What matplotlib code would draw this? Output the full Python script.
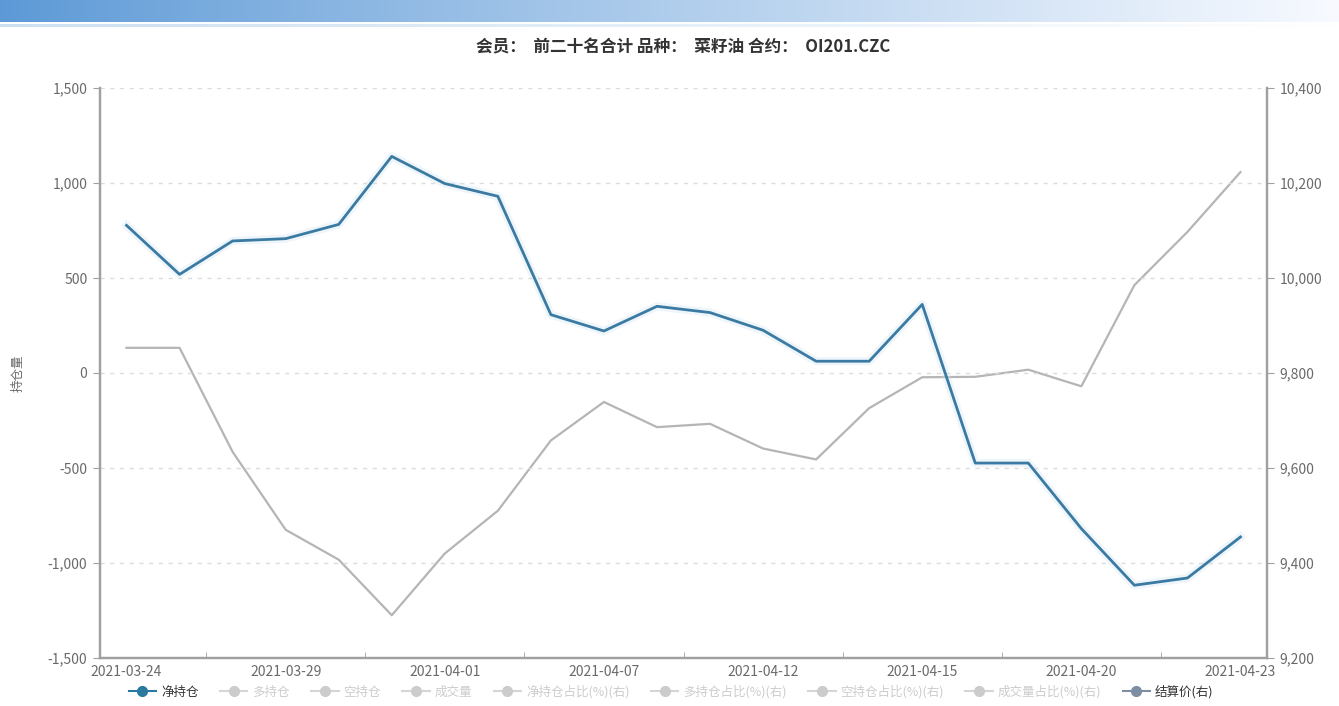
import numpy as np
import matplotlib
matplotlib.use("Agg")
import matplotlib.pyplot as plt
import matplotlib.patheffects as pe
from matplotlib.lines import Line2D
from matplotlib.ticker import FuncFormatter

plt.rcParams['font.family'] = ['Noto Sans CJK SC', 'DejaVu Sans']

# 交易日
dates = ['2021-03-24', '2021-03-25', '2021-03-26', '2021-03-29', '2021-03-30',
         '2021-03-31', '2021-04-01', '2021-04-02', '2021-04-06', '2021-04-07',
         '2021-04-08', '2021-04-09', '2021-04-12', '2021-04-13', '2021-04-14',
         '2021-04-15', '2021-04-16', '2021-04-19', '2021-04-20', '2021-04-21',
         '2021-04-22', '2021-04-23']

# 前二十名净持仓（左轴）
net_pos = [777, 519, 695, 707, 782, 1140, 997, 930, 307, 221, 351, 318,
           225, 62, 62, 361, -474, -474, -819, -1117, -1079, -863]

# 结算价（右轴）
settle = [9853, 9853, 9634, 9470, 9407, 9290, 9420, 9510, 9658, 9739, 9686,
          9693, 9641, 9618, 9726, 9791, 9792, 9807, 9772, 9985, 10097, 10223]

legend_names = ['净持仓', '多持仓', '空持仓', '成交量', '净持仓占比(%)(右)',
                '多持仓占比(%)(右)', '空持仓占比(%)(右)', '成交量占比(%)(右)', '结算价(右)']

title = '会员：  前二十名合计 品种：  菜籽油 合约：  OI201.CZC'

BLUE = '#3b7aa2'
GRAY = '#b5b5b5'
AXIS = '#a0a0a0'
TXT = '#6a6a6a'

fig = plt.figure(figsize=(13.39, 7.06), dpi=100)

# 顶部渐变条
bar = fig.add_axes([0, 1 - 22 / 706, 1, 22 / 706])
grad = np.linspace(0, 1, 512)
c0 = np.array([0.36, 0.60, 0.84])
c1 = np.array([0.97, 0.98, 1.0])
img = c0[None, :] * (1 - grad[:, None] ** 0.9) + c1[None, :] * grad[:, None] ** 0.9
bar.imshow(img[None, :, :], aspect='auto', extent=[0, 1, 0, 1])
bar.axis('off')
line = fig.add_axes([0, 1 - 27 / 706, 1, 3 / 706])
c2 = np.array([0.80, 0.88, 0.95])
img2 = c2[None, :] * (1 - grad[:, None]) + np.array([1, 1, 1])[None, :] * grad[:, None]
line.imshow(img2[None, :, :], aspect='auto', extent=[0, 1, 0, 1])
line.axis('off')

ax = fig.add_axes([100 / 1339, 48 / 706, 1167 / 1339, 570 / 706])
ax2 = ax.twinx()

x = np.arange(len(dates))

ax2.plot(x, settle, color=GRAY, lw=1.6, zorder=2)
ax.plot(x, net_pos, color=BLUE, lw=2.0, zorder=3,
        path_effects=[pe.Stroke(linewidth=6, foreground='#cfe6f5', alpha=0.35), pe.Normal()])
ax.set_zorder(ax2.get_zorder() + 1)
ax.patch.set_visible(False)

ax.set_xlim(-0.5, len(dates) - 0.5)
ax.set_ylim(-1500, 1500)
ax2.set_ylim(9200, 10400)
ax.set_yticks(np.arange(-1500, 1501, 500))
ax2.set_yticks(np.arange(9200, 10401, 200))
fmt = FuncFormatter(lambda v, p: f'{int(v):,}')
ax.yaxis.set_major_formatter(fmt)
ax2.yaxis.set_major_formatter(fmt)

ax.set_xticks(x[::3])
ax.set_xticklabels(dates[::3])
ax.set_xticks(np.arange(1.5, len(dates) - 0.5, 3), minor=True)
ax.tick_params(axis='x', which='major', length=0, pad=5, labelsize=10, labelcolor=TXT)
ax.tick_params(axis='x', which='minor', length=4, color=AXIS, direction='in')
ax.tick_params(axis='y', length=5, color=AXIS, labelsize=10, labelcolor=TXT, pad=4)
ax2.tick_params(axis='y', length=5, color=AXIS, labelsize=10, labelcolor=TXT, pad=4)

ax.grid(axis='y', color='#dcdcdc', ls=(0, (3, 4)), lw=1)
for a in (ax, ax2):
    a.spines['top'].set_visible(False)
    for side in ('left', 'right', 'bottom'):
        a.spines[side].set_color(AXIS)
        a.spines[side].set_linewidth(1.6)

fig.text(18 / 1339, 1 - 373 / 706, '持仓量', rotation=90, ha='center', va='center',
         fontsize=9, color=TXT)

fig.text(683 / 1339, 1 - 47 / 706, title, ha='center', va='center',
         fontsize=12, fontweight='bold', color='#333333')

# 图例
marker_cols = ['#2a7aa0'] + ['#cccccc'] * 7 + ['#7d8ea3']
text_cols = ['#333333'] + ['#cccccc'] * 7 + ['#333333']
line_cols = ['#2a7aa0'] + ['#d5d5d5'] * 7 + ['#7d8ea3']
handles = [Line2D([0], [0], color=lc, lw=1.5, marker='o', markersize=7,
                  markerfacecolor=mc, markeredgecolor=mc)
           for lc, mc in zip(line_cols, marker_cols)]
leg = fig.legend(handles, legend_names, loc='center', bbox_to_anchor=(671 / 1339, 14 / 706),
                 ncol=9, frameon=False, fontsize=9, handlelength=2.2, handletextpad=0.4,
                 columnspacing=1.7)
for t, c in zip(leg.get_texts(), text_cols):
    t.set_color(c)

fig.savefig('out.png', dpi=100, facecolor='white')
